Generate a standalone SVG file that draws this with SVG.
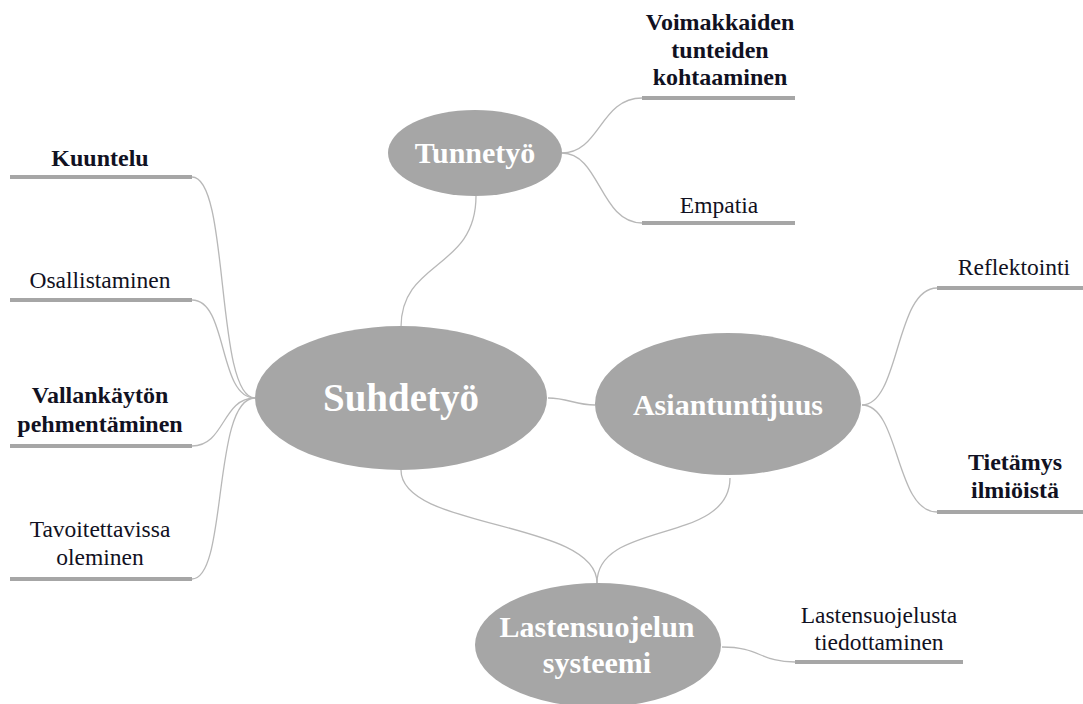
<svg xmlns="http://www.w3.org/2000/svg" width="1083" height="704" viewBox="0 0 1083 704">
<style>
text{font-family:'Liberation Serif','Times New Roman',serif}
.hub{fill:#a6a6a6}
.hubt{font-weight:bold;fill:#ffffff;text-anchor:middle}
.leaf{stroke:#a6a6a6;stroke-width:4;fill:none}
.lt{font-size:23.5px;fill:#111122;text-anchor:middle}
.b{font-weight:bold;font-size:24px}
.con{stroke:#b8b8b8;stroke-width:1.3;fill:none}
</style>
<rect x="0" y="0" width="1083" height="704" fill="#ffffff"/>
<g id="connectors">
<path class="con" d="M192,177 C230,177 215,398 255,398"/>
<path class="con" d="M192,300 C228,300 218,398 255,398"/>
<path class="con" d="M192,446 C225,446 222,398 255,398"/>
<path class="con" d="M192,579 C228,579 212,398 255,398"/>
<path class="con" d="M476,196 C476,270 401,260 401,327"/>
<path class="con" d="M562,153 C600,153 600,98 642,98"/>
<path class="con" d="M562,153 C600,153 600,223 642,223"/>
<path class="con" d="M548,398 C568,398 575,405 595,405"/>
<path class="con" d="M862,405 C900,405 895,288 937,288"/>
<path class="con" d="M862,405 C900,405 895,512 937,512"/>
<path class="con" d="M401,470 C401,530 597,520 597,583"/>
<path class="con" d="M730,478 C730,545 597,520 597,583"/>
<path class="con" d="M722,647 C760,647 760,662 795,662"/>
</g>
<g id="suhdetyo">
<ellipse class="hub" cx="401" cy="398" rx="146" ry="72"/>
<text class="hubt" x="401" y="411" font-size="39">Suhdetyö</text>
</g>
<g id="asiantuntijuus">
<ellipse class="hub" cx="728" cy="404" rx="133" ry="71"/>
<text class="hubt" x="728" y="415" font-size="30">Asiantuntijuus</text>
</g>
<g id="tunnetyo">
<ellipse class="hub" cx="475" cy="153" rx="87" ry="43"/>
<text class="hubt" x="475" y="163" font-size="30">Tunnetyö</text>
</g>
<g id="lastensuojelun">
<ellipse class="hub" cx="598" cy="645" rx="123" ry="62"/>
<text class="hubt" x="597" y="637" font-size="30">Lastensuojelun</text>
<text class="hubt" x="597" y="673" font-size="30">systeemi</text>
</g>
<g id="kuuntelu">
<line class="leaf" x1="10" y1="177" x2="192" y2="177"/>
<text class="lt b" x="100" y="166">Kuuntelu</text>
</g>
<g id="osallistaminen">
<line class="leaf" x1="10" y1="300" x2="192" y2="300"/>
<text class="lt" x="100" y="288">Osallistaminen</text>
</g>
<g id="vallankaytto">
<line class="leaf" x1="10" y1="446" x2="192" y2="446"/>
<text class="lt b" x="100" y="403">Vallankäytön</text>
<text class="lt b" x="100" y="432">pehmentäminen</text>
</g>
<g id="tavoitettavissa">
<line class="leaf" x1="10" y1="579" x2="192" y2="579"/>
<text class="lt" x="100" y="537">Tavoitettavissa</text>
<text class="lt" x="100" y="565">oleminen</text>
</g>
<g id="voimakkaiden">
<line class="leaf" x1="642" y1="98" x2="795" y2="98"/>
<text class="lt b" x="720" y="30">Voimakkaiden</text>
<text class="lt b" x="720" y="58">tunteiden</text>
<text class="lt b" x="720" y="85">kohtaaminen</text>
</g>
<g id="empatia">
<line class="leaf" x1="642" y1="223" x2="795" y2="223"/>
<text class="lt" x="719" y="213">Empatia</text>
</g>
<g id="reflektointi">
<line class="leaf" x1="937" y1="288" x2="1083" y2="288"/>
<text class="lt" x="1014" y="275">Reflektointi</text>
</g>
<g id="tietamys">
<line class="leaf" x1="937" y1="512" x2="1083" y2="512"/>
<text class="lt b" x="1015" y="470">Tietämys</text>
<text class="lt b" x="1015" y="498">ilmiöistä</text>
</g>
<g id="lastensuojelusta">
<line class="leaf" x1="795" y1="662" x2="963" y2="662"/>
<text class="lt" x="879" y="623">Lastensuojelusta</text>
<text class="lt" x="879" y="650">tiedottaminen</text>
</g>
</svg>
